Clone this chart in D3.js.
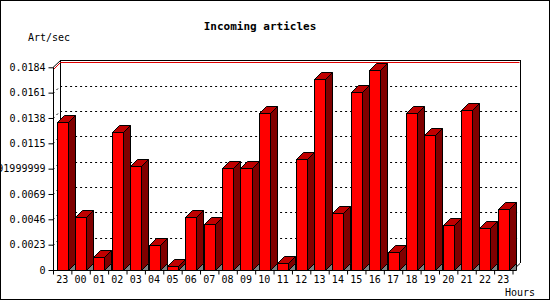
<!DOCTYPE html>
<html><head><meta charset="utf-8">
<script src="https://cdn.jsdelivr.net/npm/d3@7"></script>
<style>body{margin:0;background:#fff}svg{display:block}text{font-family:"DejaVu Sans Mono",monospace}</style>
</head><body><svg id="c" width="550" height="300"></svg>
<script>
const hours = ["23","00","01","02","03","04","05","06","07","08","09","10","11","12","13","14","15","16","17","18","19","20","21","22","23"];
const values = [0.01347,0.00478,0.00121,0.0125,0.00947,0.00227,0.00036,0.0048,0.0042,0.00923,0.00923,0.01422,0.0006,0.01005,0.01731,0.0052,0.01613,0.01813,0.00166,0.01422,0.01223,0.0041,0.0145,0.00384,0.00551];
const yTicks = [0,0.0023,0.0046,0.0069,0.0092,0.0115,0.0138,0.0161,0.0184];
const yTickLabels = ["0","0.0023","0.0046","0.0069","0.0091999999","0.0115","0.0138","0.0161","0.0184"];
const title = "Incoming articles", yTitle = "Art/sec", xTitle = "Hours";

const svg = d3.select("#c");
const D = 7;
const x0 = 53, x1 = 512.5, yBase = 270, yTop = 67.3;
const x = d3.scaleBand().domain(d3.range(hours.length)).range([x0, x1]).paddingInner(0.4).paddingOuter(0.2);
const xb = d3.scaleLinear().domain([0, hours.length]).range([x0, x1]);
const y = d3.scaleLinear().domain([0, 0.0184]).range([yBase, yTop]);

svg.append("rect").attr("x",0.5).attr("y",0.5).attr("width",549).attr("height",299).attr("fill","#fff").attr("stroke","#000");

// back wall frame
const bx0 = x0 + D, bx1 = x1 + D, by0 = yBase - D, byTop = y(0.0184) - D;
svg.append("path").attr("fill","none").attr("stroke","#000").attr("shape-rendering","crispEdges")
  .attr("d",`M${bx0+0.5},${by0}V${byTop+0.5}H${bx1+0.5}V${by0}`);
// gridlines (dotted, back)
yTicks.slice(1, -1).forEach(v => {
  const yy = Math.round(y(v)) + 0.5;
  svg.append("path").attr("fill","none").attr("stroke","#000").attr("stroke-dasharray","2,3")
    .attr("d",`M${x0},${yy}L${x0+D},${yy-D}H${bx1}`);
});
// top red line
{
  const yy = Math.round(y(0.0184)) + 0.5;
  svg.append("path").attr("fill","none").attr("stroke","#000").attr("d",`M${x0},${yy}L${x0+D+0.5},${yy-D}`);
  svg.append("path").attr("fill","none").attr("stroke","#e00000").attr("d",`M${x0+0.5},${yy+2}L${x0+D+0.5},${yy-D+2}H${bx1}`);
}
// floor right diagonal
svg.append("path").attr("fill","none").attr("stroke","#000").attr("d",`M${x1},${yBase+0.5}L${bx1+0.5},${by0+0.5}`);

// bars
const g = svg.append("g").attr("stroke","#000").attr("stroke-width",1).attr("stroke-linejoin","miter");
values.forEach((v, i) => {
  const L = Math.round(x(i)) + 0.5, R = Math.round(x(i) + x.bandwidth()) + 0.5;
  const T = Math.round(y(v)) + 0.5, B = yBase + 0.5;
  g.append("path").attr("fill","#808080").attr("d",`M${R},${B}L${R+D},${B-D}V${B}Z`);
  g.append("path").attr("fill","#800000").attr("d",`M${R},${T}L${R+D},${T-D}V${B-D}L${R},${B}Z`);
  g.append("path").attr("fill","#c00000").attr("d",`M${L},${T}L${L+D},${T-D}H${R+D}L${R},${T}Z`);
  g.append("rect").attr("fill","#ff0000").attr("x",L).attr("y",T).attr("width",R-L).attr("height",B-T);
});

// y axis
const ya = svg.append("g").attr("transform",`translate(${x0+0.5},0)`)
  .call(d3.axisLeft(y).tickValues(yTicks).tickSize(5).tickPadding(3).tickFormat((d,i)=>yTickLabels[i]));
ya.select(".domain").attr("d",`M0,${yBase+0.5}V${Math.round(yTop)+0.5}`);
ya.selectAll("text").attr("font-size","10px").attr("font-family","DejaVu Sans Mono").attr("fill","#000");

// x axis
const xa = svg.append("g").attr("transform",`translate(0,${yBase+0.5})`)
  .call(d3.axisBottom(xb).tickValues(d3.range(hours.length+1)).tickSize(4).tickFormat(""));
xa.select(".domain").attr("d",`M${x0},0H${x1}`);
const xl = svg.append("g").attr("transform",`translate(0,${yBase+0.5})`)
  .call(d3.axisBottom(x).tickSize(0).tickPadding(5).tickFormat(i=>hours[i]));
xl.select(".domain").remove();
xl.selectAll("text").attr("font-size","10px").attr("font-family","DejaVu Sans Mono").attr("fill","#000");

svg.append("text").attr("x",260).attr("y",30).attr("text-anchor","middle").attr("font-size","11px").attr("font-weight","bold").text(title);
svg.append("text").attr("x",28).attr("y",41).attr("font-size","10px").text(yTitle);
svg.append("text").attr("x",505).attr("y",296).attr("font-size","10px").text(xTitle);
</script></body></html>
